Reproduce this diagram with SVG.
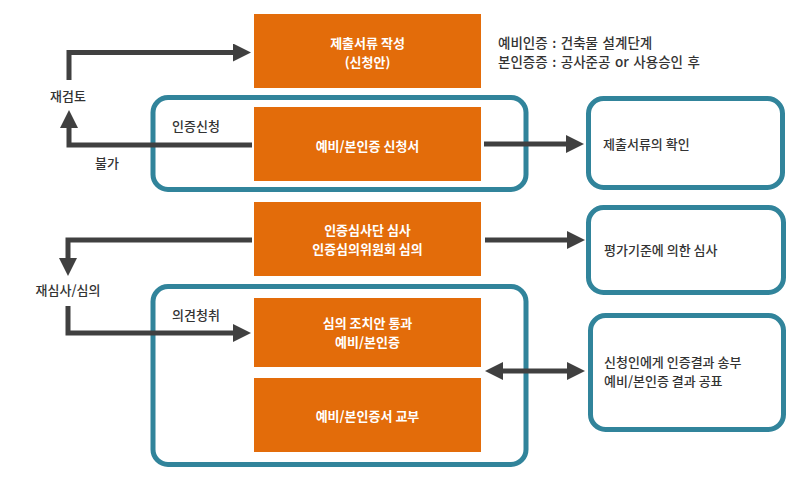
<svg xmlns="http://www.w3.org/2000/svg" width="798" height="480" viewBox="0 0 798 480">
<style>
.box{fill:#E36C0A}
.grp{fill:none;stroke:#31849B;stroke-width:5}
.conn{fill:none;stroke:#404040;stroke-width:5}
.wt{fill:#fff;font-family:"Noto Sans CJK KR","Noto Sans",sans-serif;font-size:13px;font-weight:bold;text-anchor:middle}
.dt{fill:#333;font-family:"Noto Sans CJK KR","Noto Sans",sans-serif;font-size:13px;font-weight:500}
.nt{font-size:13.5px;word-spacing:1.5px}
.mid{text-anchor:middle}
</style>
<defs>
<marker id="ah" viewBox="0 0 18 18" markerUnits="userSpaceOnUse" markerWidth="18" markerHeight="18" refX="0" refY="9" orient="auto-start-reverse">
<path d="M0,0 L18,9 L0,18 z" fill="#404040"/>
</marker>
</defs>
<rect width="798" height="480" fill="#fff"/>
<g id="group1"><rect class="grp" x="153" y="97.5" width="373" height="92" rx="15"/></g>
<g id="group2"><rect class="grp" x="153" y="286.5" width="373" height="178" rx="15"/></g>
<g id="n1"><rect class="box" x="254" y="14" width="227" height="74"/>
<text class="wt" x="367.5" y="48">제출서류 작성</text><text class="wt" x="367.5" y="67">(신청안)</text></g>
<g id="n2"><rect class="box" x="254" y="107" width="227" height="74"/>
<text class="wt" x="367.5" y="151">예비/본인증 신청서</text></g>
<g id="n3"><rect class="box" x="254" y="202" width="227" height="74"/>
<text class="wt" x="367.5" y="235">인증심사단 심사</text><text class="wt" x="367.5" y="254">인증심의위원회 심의</text></g>
<g id="n4"><rect class="box" x="254" y="298" width="227" height="69"/>
<text class="wt" x="367.5" y="328">심의 조치안 통과</text><text class="wt" x="367.5" y="347">예비/본인증</text></g>
<g id="n5"><rect class="box" x="254" y="378" width="227" height="74"/>
<text class="wt" x="367.5" y="421">예비/본인증서 교부</text></g>
<g id="r1"><rect class="grp" x="588.5" y="98.5" width="194" height="89" rx="15"/>
<text class="dt" x="603" y="149">제출서류의 확인</text></g>
<g id="r2"><rect class="grp" x="588.5" y="207.5" width="195" height="85" rx="15"/>
<text class="dt" x="604" y="255">평가기준에 의한 심사</text></g>
<g id="r3"><rect class="grp" x="590.5" y="315.5" width="193" height="114" rx="15"/>
<text class="dt" x="604" y="367">신청인에게 인증결과 송부</text><text class="dt" x="604" y="386">예비/본인증 결과 공표</text></g>
<g id="note"><text class="dt nt" x="498" y="48">예비인증 : 건축물 설계단계</text><text class="dt nt" x="498" y="67">본인증증 : 공사준공 or 사용승인 후</text></g>
<g id="labels">
<text class="dt mid" x="68" y="101">재검토</text>
<text class="dt" x="172" y="131">인증신청</text>
<text class="dt" x="95" y="168">불가</text>
<text class="dt mid" x="68" y="295">재심사/심의</text>
<text class="dt" x="172" y="320">의견청취</text>
</g>
<g id="connectors">
<path class="conn" d="M69,80 V52.5 H233" marker-end="url(#ah)"/>
<path class="conn" d="M252,145 H69 V128" marker-end="url(#ah)"/>
<path class="conn" d="M484,144 H566" marker-end="url(#ah)"/>
<path class="conn" d="M252,240 H68 V258" marker-end="url(#ah)"/>
<path class="conn" d="M68,306 V333 H233" marker-end="url(#ah)"/>
<path class="conn" d="M485,240 H567" marker-end="url(#ah)"/>
<path class="conn" d="M503,371 H567" marker-start="url(#ah)" marker-end="url(#ah)"/>
</g>
</svg>
